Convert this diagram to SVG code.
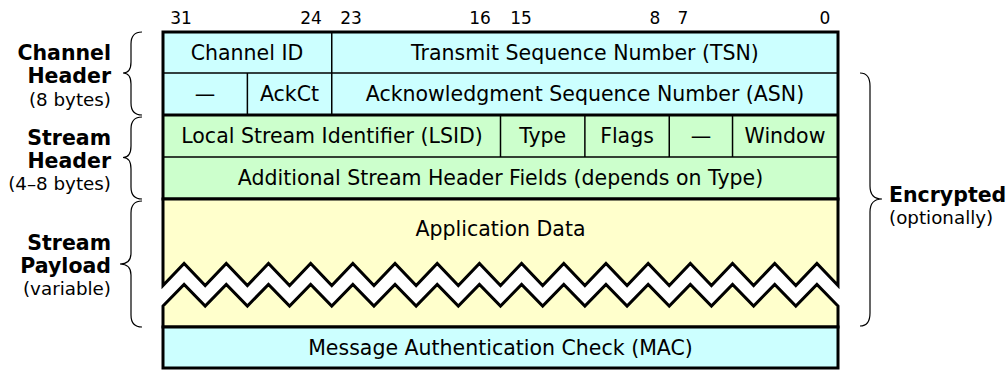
<svg xmlns="http://www.w3.org/2000/svg" width="1007" height="370" viewBox="0 0 1007 370">
<style>
text{font-family:"DejaVu Sans","Liberation Sans",sans-serif;fill:#000}
.f{font-size:20.5px;text-anchor:middle}
.n{font-size:17px;text-anchor:middle}
.b{font-size:20.5px;font-weight:bold;text-anchor:end}
.s{font-size:18.3px;text-anchor:end}
.bl{font-size:20.5px;font-weight:bold}
.sl{font-size:18.3px}
.cy{fill:#ccffff}
.gr{fill:#ccffcc}
.ye{fill:#ffffcc}
.thin{stroke:#000;stroke-width:1.5;fill:none}
.thick{stroke:#000;stroke-width:3;fill:none}
.brace{stroke:#000;stroke-width:1.2;fill:none}
</style>
<rect width="1007" height="370" fill="#fff"/>
<g id="bits">
<text class="n" x="181" y="24">31</text>
<text class="n" x="311" y="24">24</text>
<text class="n" x="351" y="24">23</text>
<text class="n" x="480" y="24">16</text>
<text class="n" x="521" y="24">15</text>
<text class="n" x="655" y="24">8</text>
<text class="n" x="683" y="24">7</text>
<text class="n" x="825" y="24">0</text>
</g>
<g id="channel-header">
<rect class="cy" x="163" y="32" width="675" height="83"/>
<line class="thin" x1="163" y1="73" x2="838" y2="73"/>
<line class="thin" x1="331.75" y1="32" x2="331.75" y2="115"/>
<line class="thin" x1="247.38" y1="73" x2="247.38" y2="115"/>
<text class="f" x="247" y="60">Channel ID</text>
<text class="f" x="585" y="60">Transmit Sequence Number (TSN)</text>
<text class="f" x="205" y="101">—</text>
<text class="f" x="289.5" y="101">AckCt</text>
<text class="f" x="585" y="101">Acknowledgment Sequence Number (ASN)</text>
</g>
<g id="stream-header">
<rect class="gr" x="163" y="115" width="675" height="84"/>
<line class="thin" x1="163" y1="157" x2="838" y2="157"/>
<line class="thin" x1="500.5" y1="115" x2="500.5" y2="157"/>
<line class="thin" x1="584.88" y1="115" x2="584.88" y2="157"/>
<line class="thin" x1="669.25" y1="115" x2="669.25" y2="157"/>
<line class="thin" x1="732.53" y1="115" x2="732.53" y2="157"/>
<text class="f" x="332" y="143">Local Stream Identifier (LSID)</text>
<text class="f" x="542.7" y="143">Type</text>
<text class="f" x="627" y="143">Flags</text>
<text class="f" x="701" y="143">—</text>
<text class="f" x="785" y="143">Window</text>
<text class="f" x="500.5" y="185">Additional Stream Header Fields (depends on Type)</text>
</g>
<g id="header-border">
<line class="thick" x1="163" y1="115" x2="838" y2="115"/>
<rect class="thick" x="163" y="32" width="675" height="167"/>
</g>
<g id="payload">
<path class="thick" style="fill:#ffffcc" d="M163,199 L838,199 L838,285.5 L816.91,263.5 L795.81,285.5 L774.72,263.5 L753.63,285.5 L732.53,263.5 L711.44,285.5 L690.34,263.5 L669.25,285.5 L648.16,263.5 L627.06,285.5 L605.97,263.5 L584.88,285.5 L563.78,263.5 L542.69,285.5 L521.59,263.5 L500.5,285.5 L479.41,263.5 L458.31,285.5 L437.22,263.5 L416.13,285.5 L395.03,263.5 L373.94,285.5 L352.84,263.5 L331.75,285.5 L310.66,263.5 L289.56,285.5 L268.47,263.5 L247.38,285.5 L226.28,263.5 L205.19,285.5 L184.09,263.5 L163,285.5 Z"/>
<path class="thick" style="fill:#ffffcc" d="M163,306 L184.09,284.5 L205.19,306 L226.28,284.5 L247.38,306 L268.47,284.5 L289.56,306 L310.66,284.5 L331.75,306 L352.84,284.5 L373.94,306 L395.03,284.5 L416.13,306 L437.22,284.5 L458.31,306 L479.41,284.5 L500.5,306 L521.59,284.5 L542.69,306 L563.78,284.5 L584.88,306 L605.97,284.5 L627.06,306 L648.16,284.5 L669.25,306 L690.34,284.5 L711.44,306 L732.53,284.5 L753.63,306 L774.72,284.5 L795.81,306 L816.91,284.5 L838,306 L838,327 L163,327 Z"/>
<text class="f" x="500.5" y="236">Application Data</text>
</g>
<g id="mac">
<rect class="thick" style="fill:#ccffff" x="163" y="327" width="675" height="41"/>
<text class="f" x="500.5" y="355">Message Authentication Check (MAC)</text>
</g>
<g id="braces">
<path class="brace" d="M142,32 Q131,32 131,44 L131,62 Q131,73 123,73 Q131,73 131,84 L131,103 Q131,115 142,115"/>
<path class="brace" d="M142,117 Q131,117 131,129 L131,146 Q131,157.5 123,157.5 Q131,157.5 131,169 L131,187 Q131,199 142,199"/>
<path class="brace" d="M142,201 Q131,201 131,213 L131,253 Q131,264 120,264 Q131,264 131,275 L131,315 Q131,327 142,327"/>
<path class="brace" d="M860,73 Q870,73 870,86 L870,186 Q870,199 882,199 Q870,199 870,212 L870,313 Q870,326 860,326"/>
</g>
<g id="labels">
<text class="b" x="111" y="60">Channel</text>
<text class="b" x="111" y="83">Header</text>
<text class="s" x="111" y="106">(8 bytes)</text>
<text class="b" x="111" y="145">Stream</text>
<text class="b" x="111" y="168">Header</text>
<text class="s" x="111" y="190">(4–8 bytes)</text>
<text class="b" x="111" y="250">Stream</text>
<text class="b" x="111" y="273">Payload</text>
<text class="s" x="111" y="295">(variable)</text>
<text class="bl" x="889" y="202">Encrypted</text>
<text class="sl" x="889" y="224">(optionally)</text>
</g>
</svg>
